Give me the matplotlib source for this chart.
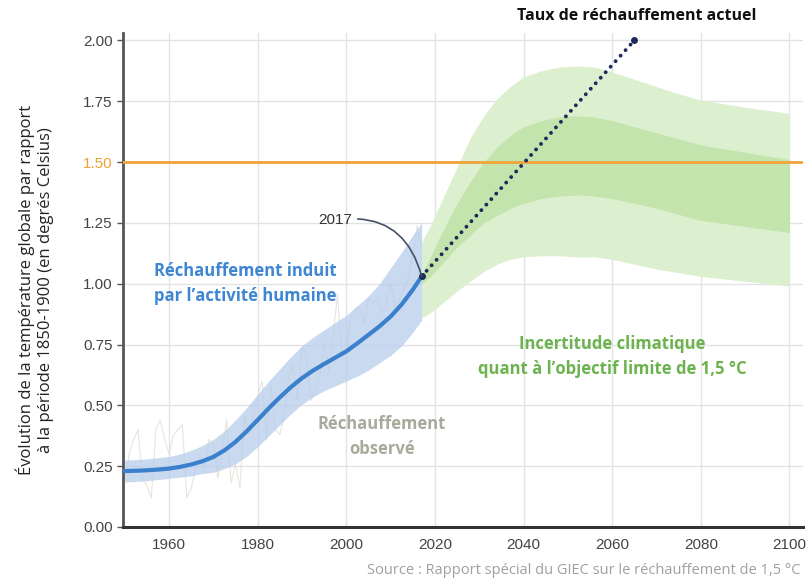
import matplotlib.pyplot as plt

# human-induced warming (blue curve) and its likely range
years_hist = [1950, 1952.5, 1955, 1957.5, 1960, 1962.5, 1965, 1967.5, 1970, 1972.5, 1975, 1977.5,
              1980, 1982.5, 1985, 1987.5, 1990, 1992.5, 1995, 1997.5, 2000, 2002.5, 2005, 2007.5,
              2010, 2012.5, 2015, 2017]
warming = [0.230, 0.231, 0.233, 0.236, 0.240, 0.247, 0.257, 0.270, 0.288, 0.315, 0.350, 0.393,
           0.440, 0.488, 0.533, 0.575, 0.612, 0.643, 0.670, 0.696, 0.722, 0.755, 0.790, 0.825,
           0.865, 0.915, 0.975, 1.030]
warming_lo = [0.185, 0.187, 0.190, 0.195, 0.200, 0.205, 0.210, 0.220, 0.225, 0.240, 0.260, 0.290,
              0.330, 0.375, 0.420, 0.465, 0.505, 0.535, 0.560, 0.580, 0.600, 0.620, 0.645, 0.675,
              0.705, 0.745, 0.800, 0.850]
warming_hi = [0.275, 0.277, 0.280, 0.285, 0.290, 0.300, 0.315, 0.335, 0.360, 0.395, 0.440, 0.490,
              0.545, 0.600, 0.650, 0.700, 0.745, 0.780, 0.810, 0.840, 0.870, 0.910, 0.950, 1.000,
              1.065, 1.130, 1.200, 1.250]

# observed annual anomalies (faint grey trace)
years_obs = list(range(1950, 2018))
observed = [0.18, 0.30, 0.36, 0.40, 0.20, 0.17, 0.12, 0.40, 0.44, 0.36, 0.30, 0.38, 0.40, 0.42, 0.12,
            0.16, 0.24, 0.30, 0.22, 0.36, 0.34, 0.20, 0.32, 0.44, 0.18, 0.26, 0.16, 0.46, 0.38, 0.46,
            0.54, 0.60, 0.36, 0.58, 0.40, 0.38, 0.46, 0.62, 0.66, 0.52, 0.74, 0.70, 0.52, 0.56, 0.62,
            0.76, 0.64, 0.78, 0.96, 0.70, 0.72, 0.86, 0.90, 0.90, 0.84, 0.94, 0.92, 0.94, 0.88, 0.92,
            1.00, 0.90, 0.94, 0.98, 1.02, 1.12, 1.24, 1.14]

# projection ranges (green)
years_proj = [2017, 2019, 2021, 2023, 2025, 2028, 2031, 2034, 2037, 2040, 2044, 2048, 2052, 2056,
              2060, 2065, 2070, 2075, 2080, 2090, 2100]
outer_lo = [0.86, 0.88, 0.91, 0.94, 0.97, 1.01, 1.05, 1.08, 1.10, 1.11, 1.115, 1.115, 1.11, 1.11,
            1.10, 1.08, 1.06, 1.045, 1.03, 1.01, 0.99]
outer_hi = [1.17, 1.24, 1.32, 1.40, 1.48, 1.60, 1.69, 1.76, 1.81, 1.85, 1.875, 1.89, 1.895, 1.89,
            1.87, 1.84, 1.81, 1.78, 1.755, 1.725, 1.70]
inner_lo = [1.00, 1.03, 1.07, 1.11, 1.15, 1.20, 1.25, 1.28, 1.31, 1.33, 1.35, 1.36, 1.365, 1.36,
            1.35, 1.33, 1.31, 1.285, 1.26, 1.235, 1.21]
inner_hi = [1.04, 1.11, 1.19, 1.26, 1.33, 1.42, 1.50, 1.56, 1.61, 1.645, 1.67, 1.685, 1.69, 1.685,
            1.67, 1.645, 1.62, 1.595, 1.57, 1.54, 1.51]

# current warming rate extrapolation
rate_years = [2017, 2065]
rate_values = [1.03, 2.00]

x_ticks = [1960, 1980, 2000, 2020, 2040, 2060, 2080, 2100]
y_ticks = [0.00, 0.25, 0.50, 0.75, 1.00, 1.25, 1.50, 1.75, 2.00]
target = 1.5

fig = plt.figure(figsize=(8.06, 5.8), dpi=100)
ax = fig.add_axes([0.1526, 0.0914, 0.8434, 0.8516])

ax.set_xlim(1949.6, 2103)
ax.set_ylim(0, 2.03)
ax.set_xticks(x_ticks)
ax.set_yticks(y_ticks)
ax.set_yticklabels([f"{v:.2f}" for v in y_ticks])
ax.grid(True, color="#e3e3e3", linewidth=1.0)
ax.set_axisbelow(True)

for s in ["top", "right"]:
    ax.spines[s].set_visible(False)
ax.spines["left"].set_color("#555555")
ax.spines["left"].set_linewidth(2)
ax.spines["bottom"].set_color("#333333")
ax.spines["bottom"].set_linewidth(2.2)
ax.tick_params(axis="y", length=4, width=1, color="#555555", labelsize=11, labelcolor="#444444")
ax.tick_params(axis="x", length=0, pad=8, labelsize=11, labelcolor="#444444")
for lab in ax.get_xticklabels() + ax.get_yticklabels():
    lab.set_fontfamily("Liberation Sans")
ax.get_yticklabels()[6].set_color("#f0a030")

ax.plot(years_obs, observed, color="#e0e0d4", linewidth=0.8, alpha=0.8, zorder=1)

ax.fill_between(years_proj, outer_lo, outer_hi, color="#dcefcf", linewidth=0, zorder=2)
ax.fill_between(years_proj, inner_lo, inner_hi, color="#c3e4ad", linewidth=0, zorder=2)

ax.fill_between(years_hist, warming_lo, warming_hi, color="#b7cdec", alpha=0.75, linewidth=0, zorder=3)
ax.plot(years_hist, warming, color="#3a80cc", linewidth=3, zorder=4, solid_capstyle="round")

ax.axhline(target, color="#f2a33a", linewidth=2, zorder=3)

ax.plot(rate_years, rate_values, color="#1f2a5c", linestyle=(0, (0.01, 1.9)), linewidth=2.8,
        dash_capstyle="round", zorder=5)
ax.plot(rate_years, rate_values, "o", color="#1f2a5c", markersize=4, zorder=6)

ax.annotate("2017", xy=(2017, 1.03), xytext=(1997.5, 1.26),
            fontsize=11, color="#333333", family="Liberation Sans", ha="center", va="center",
            arrowprops=dict(arrowstyle="-", color="#445066", linewidth=1.2,
                            connectionstyle="arc3,rad=-0.45", shrinkA=2, shrinkB=0), zorder=6)

txt = dict(family="Open Sans", fontweight="bold", fontsize=12)
ax.text(1956.5, 1.0, "Réchauffement induit\npar l’activité humaine", color="#3f86d2",
        ha="left", va="center", linespacing=1.5, **txt)
ax.text(2008, 0.37, "Réchauffement\nobservé", color="#a9a99c", ha="center", va="center",
        linespacing=1.5, **txt)
ax.text(2060, 0.70, "Incertitude climatique\nquant à l’objectif limite de 1,5 °C", color="#6cb34f",
        ha="center", va="center", linespacing=1.5, **txt)

fig.text(0.790, 0.972, "Taux de réchauffement actuel", ha="center", va="center",
         color="#111111", family="Open Sans", fontweight="bold", fontsize=11.5)
fig.text(0.043, 0.5, "Évolution de la température globale par rapport\nà la période 1850-1900 (en degrés Celsius)",
         rotation=90, ha="center", va="center", fontsize=12, family="Open Sans", color="#222222",
         linespacing=1.3)
fig.text(0.993, 0.016, "Source : Rapport spécial du GIEC sur le réchauffement de 1,5 °C",
         ha="right", va="center", fontsize=10.5, family="Open Sans", color="#a0a0a0")

fig.savefig("out.png", dpi=100)
